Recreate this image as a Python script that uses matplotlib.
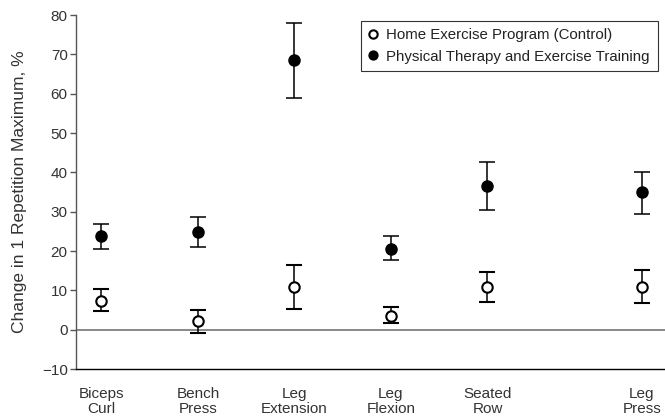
import matplotlib
matplotlib.use("Agg")
import matplotlib.pyplot as plt
import numpy as np

categories = ["Biceps\nCurl", "Bench\nPress", "Leg\nExtension", "Leg\nFlexion", "Seated\nRow", "Leg\nPress"]
control_mean = [7.2, 2.1, 10.9, 3.6, 10.9, 10.9]
control_low = [4.8, -0.8, 5.3, 1.6, 7.1, 6.7]
control_high = [10.4, 4.9, 16.5, 5.7, 14.6, 15.1]
pt_mean = [23.7, 24.8, 68.5, 20.6, 36.6, 34.9]
pt_low = [20.5, 20.9, 59.0, 17.6, 30.5, 29.4]
pt_high = [26.8, 28.6, 78.0, 23.9, 42.7, 40.2]
yticks = [-10, 0, 10, 20, 30, 40, 50, 60, 70, 80]
ytick_labels = ["\u221210", "0", "10", "20", "30", "40", "50", "60", "70", "80"]

positions = [0, 1, 2, 3, 4, 5.6]

plt.rcParams['font.family'] = ['Liberation Sans', 'DejaVu Sans']
fig = plt.figure(figsize=(6.65, 4.17), dpi=100)
ax = fig.add_axes([0.1143, 0.115, 0.8857, 0.849])

tc = "#333333"
ax.axhline(0, color="#808080", lw=1.3, zorder=1)

cm = np.array(control_mean)
ax.errorbar(positions, cm, yerr=[cm - np.array(control_low), np.array(control_high) - cm],
            fmt="o", mfc="white", mec="black", mew=1.5, ms=7.5, ecolor="black",
            elinewidth=1.1, capsize=5.5, capthick=1.1, zorder=3,
            label="Home Exercise Program (Control)")
pm = np.array(pt_mean)
ax.errorbar(positions, pm, yerr=[pm - np.array(pt_low), np.array(pt_high) - pm],
            fmt="o", mfc="black", mec="black", ms=8, ecolor="black",
            elinewidth=1.1, capsize=5.5, capthick=1.1, zorder=3,
            label="Physical Therapy and Exercise Training")

ax.set_xlim(-0.264, 5.84)
ax.set_ylim(-10, 80)
ax.set_yticks(yticks)
ax.set_yticklabels(ytick_labels, fontsize=11, color=tc)
ax.set_xticks(positions)
ax.set_xticklabels(categories, fontsize=11, color=tc, linespacing=1.12)
ax.tick_params(axis="x", length=0, pad=13)
ax.tick_params(axis="y", length=4, width=1, color="#555555", pad=2)
ax.set_ylabel("Change in 1 Repetition Maximum, %", fontsize=12.5, color=tc)
ax.yaxis.set_label_coords(-0.083, 0.5)
for s in ["top", "right"]:
    ax.spines[s].set_visible(False)
ax.spines["left"].set_color("#555555")
ax.spines["bottom"].set_color("black")
ax.spines["left"].set_linewidth(1)
ax.spines["bottom"].set_linewidth(1)

handles, labels = ax.get_legend_handles_labels()
handles = [h[0] for h in handles]
leg = ax.legend(handles, labels, loc="upper right", bbox_to_anchor=(1.0, 1.005),
                fontsize=10.8, frameon=True, fancybox=False, edgecolor="black",
                handlelength=0.6, handletextpad=0.6, borderpad=0.5, labelspacing=0.5,
                markerscale=0.8)
leg.get_frame().set_linewidth(0.8)
for t in leg.get_texts():
    t.set_color("#222222")

fig.savefig("out.png", dpi=100)
